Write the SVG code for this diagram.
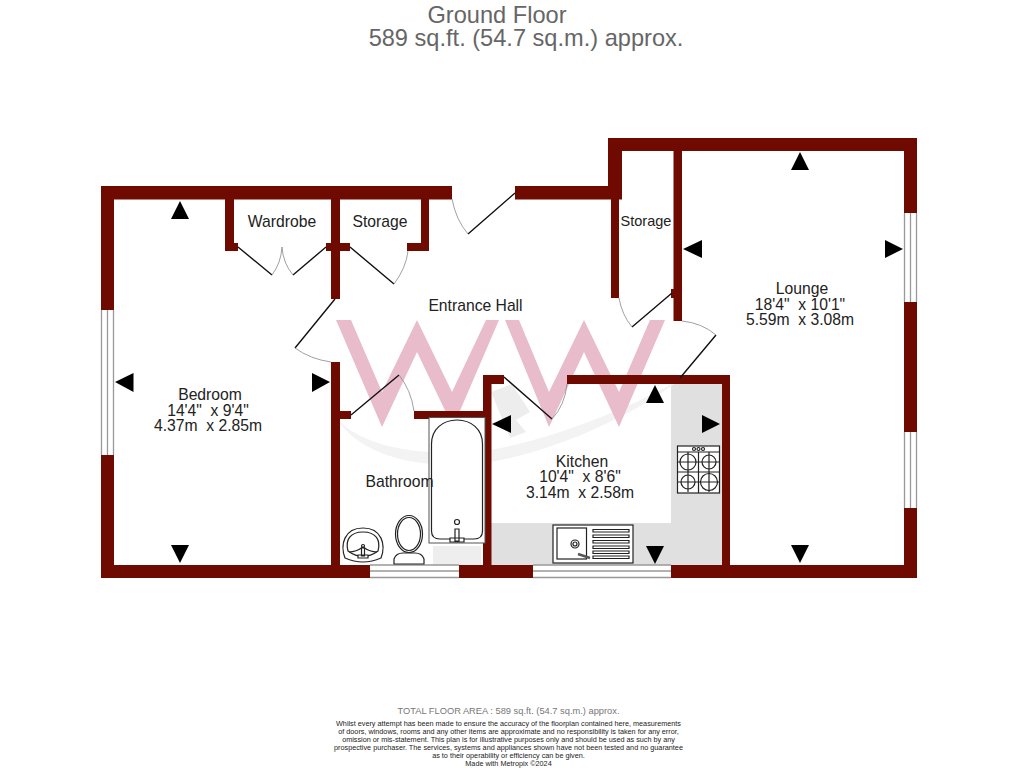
<svg xmlns="http://www.w3.org/2000/svg" width="1024" height="768" viewBox="0 0 1024 768">
<style>
text{font-family:"Liberation Sans",Arial,sans-serif;text-anchor:middle;white-space:pre}
.t{fill:#666;font-size:23.600px}
.l{fill:#222;font-size:15.700px}
.f{fill:#777;font-size:9.300px}
.d{fill:#222;font-size:7.260px}
.w{fill:#6f0a00}
.wm{fill:#e8bccb}
.wl{stroke:#999;stroke-width:1.3;fill:none}
.dl{stroke:#111;stroke-width:1.4;fill:none}
.da{stroke:#888;stroke-width:.8;fill:none}
.a{fill:#000}
.fx{stroke:#222;stroke-width:1.2;fill:#fff}
.fn{stroke:#222;stroke-width:1.2;fill:none}
.g{fill:#e0e0e0}
</style>
<rect width="1024" height="768" fill="#fff"/>
<g id="shading">
<rect class="g" x="671" y="384" width="51" height="181"/>
<rect class="g" x="491" y="523" width="231" height="42"/>
<rect x="433" y="546" width="48" height="19" fill="#eee"/>
</g>
<g id="watermark">
<path d="M338,420C360,455 420,472 490,462C560,450 640,412 682,378C640,403 560,438 490,450C420,458 365,447 338,420Z" fill="#f3f3f3"/>
<path d="M491,392L512,384L530,412L516,420L526,432L510,438Z" fill="#ededed"/>
<polygon class="wm" points="336,320 351,320 382,392 417,320 452,392 486,320 499,320 453,427 417,352 382,427"/>
<polygon class="wm" points="505,320 519,320 549,392 584,320 619,392 650,320 665,320 619,427 584,352 549,427"/>
</g>
<g id="title">
<text class="t" x="497" y="23">Ground Floor</text>
<text class="t" x="526" y="46">589 sq.ft. (54.7 sq.m.) approx.</text>
</g>
<g id="walls">
<rect class="w" x="101" y="186" width="351" height="13.500"/>
<rect class="w" x="101" y="186" width="13" height="124"/>
<rect class="w" x="101" y="455" width="13" height="123"/>
<rect class="w" x="225" y="199" width="9" height="52"/>
<rect class="w" x="225" y="243" width="13" height="8"/>
<rect class="w" x="331" y="199" width="9" height="100"/>
<rect class="w" x="326" y="243" width="24" height="8"/>
<rect class="w" x="421" y="199" width="8" height="52"/>
<rect class="w" x="407" y="243" width="22" height="8"/>
<rect class="w" x="515" y="186" width="107" height="13.500"/>
<rect class="w" x="608" y="138" width="309" height="13"/>
<rect class="w" x="608" y="138" width="14" height="61"/>
<rect class="w" x="611" y="199" width="8" height="99"/>
<rect class="w" x="673.500" y="151" width="8.500" height="170"/>
<rect class="w" x="671" y="289" width="3" height="9"/>
<rect class="w" x="904" y="138" width="13" height="75"/>
<rect class="w" x="904" y="302" width="13" height="130"/>
<rect class="w" x="904" y="508" width="13" height="70"/>
<rect class="w" x="101" y="565" width="269" height="13"/>
<rect class="w" x="459" y="565" width="74" height="13"/>
<rect class="w" x="671" y="565" width="246" height="13"/>
<rect class="w" x="331" y="362" width="9" height="203"/>
<rect class="w" x="340" y="411" width="11" height="8"/>
<rect class="w" x="414" y="411" width="69" height="8"/>
<rect class="w" x="483" y="375" width="8.500" height="190"/>
<rect class="w" x="483" y="375" width="21" height="9"/>
<rect class="w" x="567" y="375" width="163" height="9"/>
<rect class="w" x="722" y="375" width="8" height="190"/>
</g>
<g id="windows">
<path class="wl" d="M101.500,310V455M107.500,310V455M113.500,310V455"/>
<path class="wl" d="M904.500,213V302M910.500,213V302M916.500,213V302M904.500,432V508M910.500,432V508M916.500,432V508"/>
<path class="wl" d="M370,565H459M370,571H459M370,577.500H459M533,565H671M533,571H671M533,577.500H671"/>
</g>
<g id="doors">
<path class="dl" d="M238,247L272,275M293,275L326,247M350,247L394,284M335,299L295,348M351,415L399,375M468,234L515,193M632,327L672,293M716,335L680,378M504,377L552,419"/>
<path class="da" d="M272,275Q281,263 282,247Q283,263 293,275M394,284Q406,268 408,251M295,348Q310,359 331,362M399,375Q411,390 414,411M452,199Q456,220 468,234M619,298Q622,315 632,327M682,321Q702,323 716,335M552,419Q565,405 567,384"/>
</g>
<g id="arrows">
<polygon class="a" points="180,201 171,219 189,219"/>
<polygon class="a" points="180,563 171,545 189,545"/>
<polygon class="a" points="115,382 133.500,373 133.500,392"/>
<polygon class="a" points="330,382 312,373 312,392"/>
<polygon class="a" points="800,152 791,170 809,170"/>
<polygon class="a" points="800,563 791,545 809,545"/>
<polygon class="a" points="683,249 702,240 702,258"/>
<polygon class="a" points="903,249 885,240 885,258"/>
<polygon class="a" points="655,385 646,403 664,403"/>
<polygon class="a" points="655,564 646,546 664,546"/>
<polygon class="a" points="492,424 511,415 511,433"/>
<polygon class="a" points="720,424 702,415 702,433"/>
</g>
<g id="bath">
<rect x="429" y="417.500" width="56" height="125.500" fill="#fff" stroke="#555" stroke-width="1"/>
<path class="fn" d="M431.500,444C431.500,429 443,420 457,420C471,420 482.500,429 482.500,444V531Q482.500,539 474,539H440Q431.500,539 431.500,531Z"/>
<circle class="fn" cx="457" cy="522" r="2.500"/>
<path class="fx" d="M455,529H459V541H455ZM450,538H464V542H450Z"/>
</g>
<g id="toilet">
<ellipse class="fx" cx="409" cy="534" rx="13.500" ry="18.500"/>
<ellipse class="fn" cx="409" cy="534" rx="11.500" ry="16.500"/>
<path class="fx" d="M394,564V559Q396,553 403,553H415Q422,553 424,559V564Z"/>
</g>
<g id="basin">
<path class="fx" d="M345,558C340,545 344,528 363,528C382,528 386,545 381,558Q363,566 345,558Z"/>
<path class="fn" d="M348,551C345,540 350,532 363,532C376,532 381,540 378,551Q363,562 348,551Z"/>
<path class="fn" d="M349,552Q356,552 363,547Q370,552 377,552"/>
<circle class="fn" cx="363" cy="546" r="1.500"/>
<path class="fx" d="M361.500,548H364.500V556H361.500ZM358,555H368V558H358Z"/>
</g>
<g id="sink">
<rect class="fx" x="553" y="525" width="80" height="38"/>
<rect class="fn" x="557" y="528" width="29.500" height="31"/>
<circle class="fn" cx="575" cy="544" r="4"/>
<circle class="fn" cx="575" cy="544" r="2"/>
<path d="M578,554L590,558" stroke="#555" stroke-width="2.500" fill="none"/>
<path class="fx" d="M593,529.500h36v2.500h-36zM593,535h36v2.500h-36zM593,540.500h36v2.500h-36zM593,546h36v2.500h-36zM593,551h36v2.500h-36zM593,556h36v2.500h-36z"/>
</g>
<g id="hob">
<rect class="fx" x="677.500" y="446" width="42" height="47"/>
<path class="fn" d="M677.500,452H719.500M698.500,452V493M677.500,472H719.500"/>
<circle class="fn" cx="694" cy="449" r="1.500"/><circle class="fn" cx="698.500" cy="449" r="1.500"/><circle class="fn" cx="703" cy="449" r="1.500"/>
<circle class="fn" cx="688" cy="462" r="8"/><circle class="fn" cx="709" cy="462" r="7"/><circle class="fn" cx="688" cy="482" r="7"/><circle class="fn" cx="709" cy="482" r="8.500"/>
<path class="fn" d="M688,452V472M678,462H698M709,452V472M699,462H719M688,472V492M678,482H698M709,472V492M699,482H719"/>
</g>
<g id="labels">
<text class="l" x="282" y="227">Wardrobe</text>
<text class="l" x="380" y="227">Storage</text>
<text class="l" x="646" y="225.500" style="font-size:14.500px">Storage</text>
<text class="l" x="475.500" y="311">Entrance Hall</text>
<text class="l" x="399.500" y="486.500">Bathroom</text>
<text class="l"><tspan x="210" y="400">Bedroom</tspan><tspan x="208" y="415.500">14'4"  x 9'4"</tspan><tspan x="208" y="431">4.37m  x 2.85m</tspan></text>
<text class="l"><tspan x="802" y="294">Lounge</tspan><tspan x="800" y="309.500">18'4"  x 10'1"</tspan><tspan x="800" y="325">5.59m  x 3.08m</tspan></text>
<text class="l"><tspan x="582" y="466.500">Kitchen</tspan><tspan x="580" y="482">10'4"  x 8'6"</tspan><tspan x="580" y="497.500">3.14m  x 2.58m</tspan></text>
</g>
<g id="footer">
<text class="f" x="508.500" y="714">TOTAL FLOOR AREA : 589 sq.ft. (54.7 sq.m.) approx.</text>
<text class="d" x="508.500" y="725.500">Whilst every attempt has been made to ensure the accuracy of the floorplan contained here, measurements</text>
<text class="d" x="508.500" y="733.500">of doors, windows, rooms and any other items are approximate and no responsibility is taken for any error,</text>
<text class="d" x="508.500" y="741.500">omission or mis-statement. This plan is for illustrative purposes only and should be used as such by any</text>
<text class="d" x="508.500" y="750">prospective purchaser. The services, systems and appliances shown have not been tested and no guarantee</text>
<text class="d" x="508.500" y="758">as to their operability or efficiency can be given.</text>
<text class="d" x="508.500" y="766">Made with Metropix ©2024</text>
</g>
</svg>
